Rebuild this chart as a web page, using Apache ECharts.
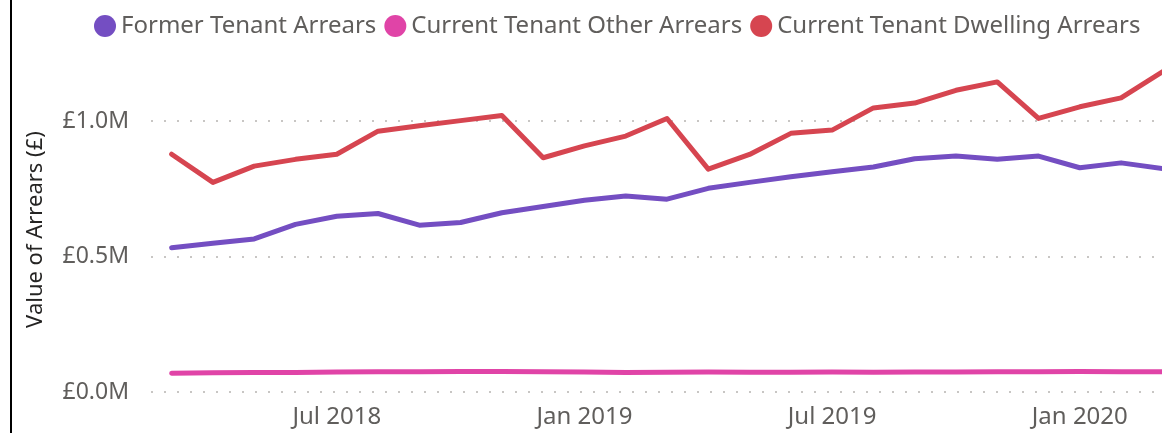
<!DOCTYPE html>
<html>
<head>
<meta charset="utf-8">
<script src="https://cdn.jsdelivr.net/npm/echarts@6/dist/echarts.min.js"></script>
<style>
  html, body { margin: 0; padding: 0; background: #fff; }
  #chart { width: 1162px; height: 433px; }
</style>
</head>
<body>
<div id="chart"></div>
<script>
const months = [
  "Mar 2018", "Apr 2018", "May 2018", "Jun 2018", "Jul 2018", "Aug 2018", "Sep 2018",
  "Oct 2018", "Nov 2018", "Dec 2018", "Jan 2019", "Feb 2019", "Mar 2019", "Apr 2019",
  "May 2019", "Jun 2019", "Jul 2019", "Aug 2019", "Sep 2019", "Oct 2019", "Nov 2019",
  "Dec 2019", "Jan 2020", "Feb 2020", "Mar 2020"
]

// values in £
const formerTenant = [
  533000, 549000, 565000, 619000, 649000, 659000, 616000, 626000, 662000, 685000,
  708000, 724000, 712000, 752000, 774000, 795000, 813000, 831000, 861000, 871000,
  859000, 871000, 828000, 846000, 825000
]
const currentOther = [
  69000, 71000, 72000, 72000, 74000, 75000, 75000, 76000, 76000, 75000,
  74000, 72000, 73000, 74000, 73000, 73000, 74000, 73000, 74000, 74000,
  75000, 75000, 76000, 75000, 75000
]
const currentDwelling = [
  878000, 774000, 834000, 859000, 878000, 963000, 983000, 1002000, 1021000, 865000,
  909000, 945000, 1010000, 823000, 877000, 955000, 967000, 1049000, 1067000, 1114000,
  1145000, 1010000, 1053000, 1086000, 1182000
]

const seriesNames = ["Former Tenant Arrears", "Current Tenant Other Arrears", "Current Tenant Dwelling Arrears"]
const seriesColors = ["#744EC2", "#E044A7", "#D64550"]

const fontFamily = "'Segoe UI', 'Noto Sans', 'Open Sans', sans-serif"

let chart = echarts.init(document.getElementById("chart"))

const makeLine = (name, data, color) => ({
  name: name,
  type: "line",
  symbol: "none",
  data: data,
  itemStyle: {color: color},
  lineStyle: {color: color, width: 5, cap: "round", join: "round"},
  emphasis: {disabled: true}
})

let option = {
  animation: false,
  textStyle: {fontFamily: fontFamily},
  graphic: [
    {type: "rect", shape: {x: 10, y: 0, width: 2, height: 433}, style: {fill: "#000"}}
  ],
  legend: {
    left: 89,
    top: 9,
    icon: "circle",
    itemWidth: 22,
    itemHeight: 22,
    itemGap: 8,
    textStyle: {color: "#605E5C", fontSize: 24, fontFamily: fontFamily},
    data: seriesNames
  },
  // the last band runs past the right edge of the visual
  grid: {left: 151, right: -21, top: 67, height: 325, outerBoundsMode: "none"},
  xAxis: {
    type: "category",
    data: months,
    boundaryGap: true,
    axisLine: {show: false},
    axisTick: {show: false},
    axisLabel: {
      color: "#605E5C",
      fontSize: 24,
      margin: 13,
      interval: (idx) => (idx - 4) % 6 === 0
    }
  },
  yAxis: {
    type: "value",
    min: 0,
    max: 1200000,
    interval: 500000,
    name: "Value of Arrears (£)",
    nameLocation: "middle",
    nameRotate: 90,
    nameGap: 104,
    nameTextStyle: {color: "#252423", fontSize: 22, fontFamily: fontFamily},
    axisLine: {show: false},
    axisTick: {show: false},
    axisLabel: {
      color: "#605E5C",
      fontSize: 23,
      margin: 22,
      showMaxLabel: false,
      formatter: (v) => "£" + (v / 1000000).toFixed(1) + "M"
    },
    splitLine: {
      show: true,
      showMaxLine: false,
      lineStyle: {color: "#C8C6C4", width: 2, type: [2, 11]}
    }
  },
  series: [
    makeLine(seriesNames[0], formerTenant, seriesColors[0]),
    makeLine(seriesNames[1], currentOther, seriesColors[1]),
    makeLine(seriesNames[2], currentDwelling, seriesColors[2])
  ]
}

chart.setOption(option)
</script>
</body>
</html>
